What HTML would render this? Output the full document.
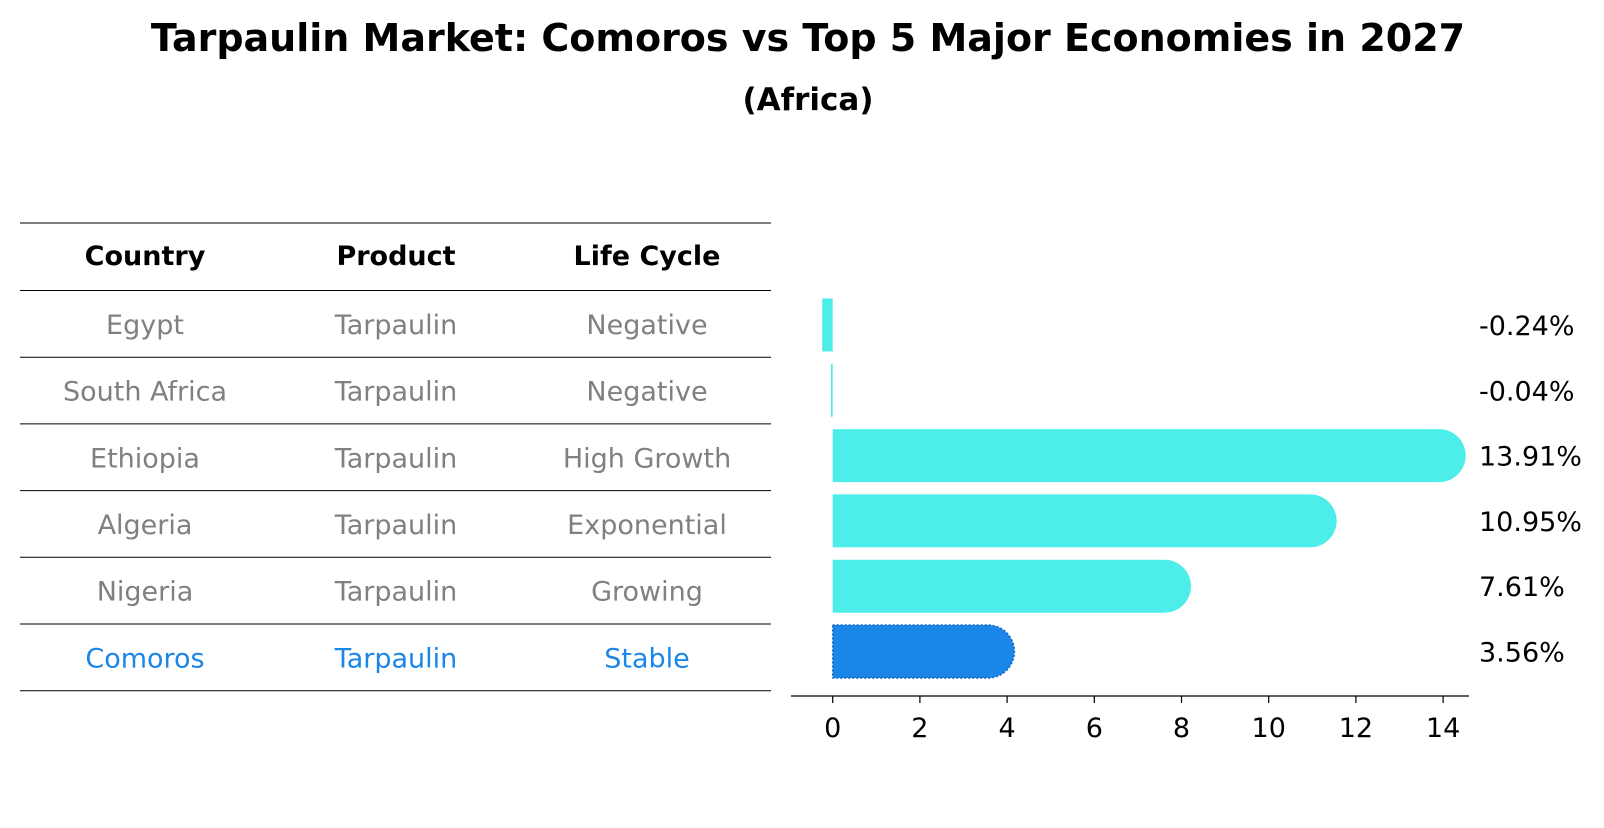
<!DOCTYPE html>
<html><head><meta charset="utf-8"><style>
body{margin:0;background:#fff}
svg text{font-family:"DejaVu Sans","Liberation Sans",sans-serif}
</style></head><body>
<svg id="c" width="1604" height="823" xmlns="http://www.w3.org/2000/svg">
<text x="808" y="51" text-anchor="middle" font-size="38" font-weight="bold">Tarpaulin Market: Comoros vs Top 5 Major Economies in 2027</text>
<text x="808" y="110" text-anchor="middle" font-size="31" font-weight="bold">(Africa)</text>
<g id="tbl"></g>
<g id="bars"></g>
</svg>
<script>
const countries=["Egypt","South Africa","Ethiopia","Algeria","Nigeria","Comoros"];
const products=["Tarpaulin","Tarpaulin","Tarpaulin","Tarpaulin","Tarpaulin","Tarpaulin"];
const lifeCycles=["Negative","Negative","High Growth","Exponential","Growing","Stable"];
const growth=[-0.24,-0.04,13.91,10.95,7.61,3.56];
const ticks=[0,2,4,6,8,10,12,14];
const NS="http://www.w3.org/2000/svg";
function mk(t,a,p){const e=document.createElementNS(NS,t);for(const k in a)e.setAttribute(k,a[k]);p.appendChild(e);return e;}
const tbl=document.getElementById('tbl'),bars=document.getElementById('bars');
const x=v=>832.7+v*43.6;
const rowY=i=>325+i*65.3;
const colX=[145,396,647];
const FS=27;
const lineYs=[223,290.5];for(let i=1;i<=6;i++)lineYs.push(290.5+i*66.7);
lineYs.forEach(y=>{const l=mk('line',{x1:20,x2:771,y1:y,y2:y,stroke:'#000','stroke-width':1},tbl);

});
["Country","Product","Life Cycle"].forEach((h,j)=>{const t=mk('text',{x:colX[j],y:265,'text-anchor':'middle','font-size':FS,'font-weight':'bold'},tbl);t.textContent=h;

});
countries.forEach((c,i)=>{const col=i===5?'#1a86e8':'#808080';const y=290.5+(i+0.5)*66.7+10;
[c,products[i],lifeCycles[i]].forEach((v,j)=>{const t=mk('text',{x:colX[j],y:y,'text-anchor':'middle','font-size':FS,fill:col},tbl);t.textContent=v;

});});
const h=53,r=26.5;
growth.forEach((v,i)=>{const cy=rowY(i);const col=i===5?'#1a86e8':'#4deeea';
let g;
if(v>=0){const x0=x(0),x1=x(v);
g=mk('path',{d:`M${x0},${cy-h/2}H${x1}A${r},${r} 0 0 1 ${x1},${cy+h/2}H${x0}Z`,fill:col},bars);
if(i===5){g.setAttribute('stroke','#1565c0');g.setAttribute('stroke-dasharray','2,2');g.setAttribute('stroke-width','1.5');}}
else{const x0=x(v),x1=x(0);g=mk('rect',{x:x0,y:cy-h/2,width:x1-x0,height:h,fill:col},bars);}


const t=mk('text',{x:1479,y:cy+10,'font-size':FS},bars);t.textContent=v.toFixed(2)+'%';

});
const ax=mk('line',{x1:791,x2:1469,y1:696,y2:696,stroke:'#000','stroke-width':1.3},bars);


ticks.forEach(v=>{const tk=mk('line',{x1:x(v),x2:x(v),y1:696,y2:703,stroke:'#000','stroke-width':1.2},bars);


const t=mk('text',{x:x(v),y:737,'text-anchor':'middle','font-size':FS},bars);t.textContent=v;

});
</script>
</body></html>
